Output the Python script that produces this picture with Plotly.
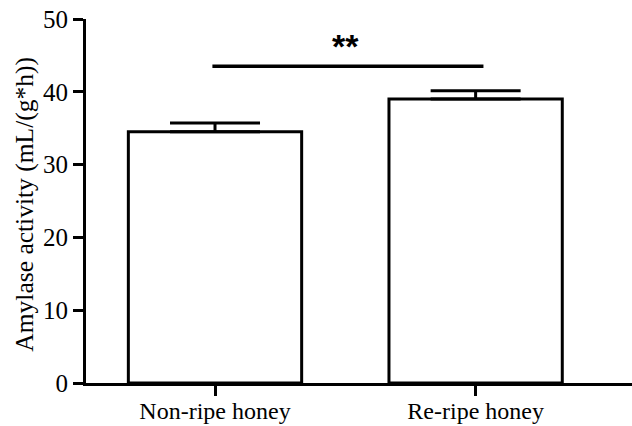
import plotly.graph_objects as go

categories = ["Non-ripe honey", "Re-ripe honey"]
values = [34.5, 39.0]
errors = [1.2, 1.15]
sig_y = 43.5
sig_label = "**"
y_ticks = [0, 10, 20, 30, 40, 50]
y_title = "Amylase activity (mL/(g*h))"

fig = go.Figure()
fig.add_trace(go.Bar(
    x=[0, 1], y=values, width=0.665,
    marker=dict(color="white", line=dict(color="black", width=3)),
    error_y=dict(type="data", array=errors, arrayminus=[0, 0], symmetric=False,
                 color="black", thickness=3, width=45),
    showlegend=False,
))

fig.add_shape(type="line", x0=-0.01, x1=1.03, y0=sig_y, y1=sig_y,
              xref="x", yref="y", line=dict(color="black", width=3.5))
fig.add_annotation(x=0.5, y=sig_y + 2.8, text="<b>" + sig_label + "</b>", showarrow=False,
                   xref="x", yref="y", yanchor="middle",
                   font=dict(family="Liberation Sans", size=34, color="black"))

# y axis title placed as rotated text left of the axis
fig.add_annotation(x=-61 / 546, y=0.49, xref="paper", yref="paper",
                   text=y_title, textangle=-90, showarrow=False,
                   xanchor="center", yanchor="middle",
                   font=dict(family="Liberation Serif", size=25.5, color="black"))

fig.update_layout(
    width=632, height=426,
    margin=dict(l=86, r=0, t=19, b=43, autoexpand=False),
    plot_bgcolor="white", paper_bgcolor="white",
    font=dict(family="Liberation Serif", color="black"),
    xaxis=dict(range=[-0.495, 1.6], tickvals=[0, 1], ticktext=categories,
               showline=True, linecolor="black", linewidth=3,
               ticks="outside", ticklen=10, tickwidth=3, tickcolor="black",
               tickfont=dict(size=24), showgrid=False, zeroline=False,
               ticklabelstandoff=-6, automargin=False),
    yaxis=dict(range=[0, 50], tickvals=y_ticks,
               showline=True, linecolor="black", linewidth=3,
               ticks="outside", ticklen=10, tickwidth=3, tickcolor="black",
               tickfont=dict(size=25), showgrid=False, zeroline=False,
               automargin=False),
)

fig.write_html("out.html", config={"displayModeBar": False},
               post_script="document.body.style.margin='0';document.body.style.overflow='hidden';")
